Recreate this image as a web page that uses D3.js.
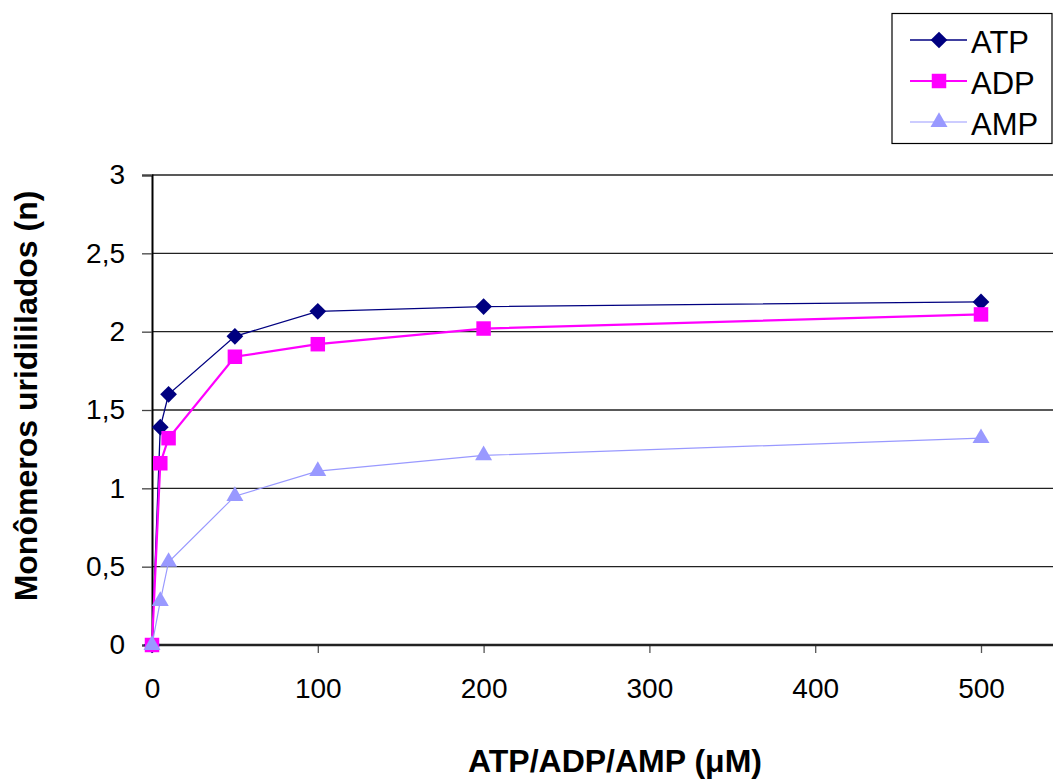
<!DOCTYPE html>
<html>
<head>
<meta charset="utf-8">
<script src="https://cdn.jsdelivr.net/npm/d3@7.9.0/dist/d3.min.js"></script>
<style>
  html, body { margin: 0; padding: 0; background: #fff; }
  svg { display: block; font-family: "Liberation Sans", Arial, sans-serif; }
</style>
</head>
<body>
<svg id="chart" width="1053" height="780"></svg>
<script>
// data
const concentrations = [0, 5, 10, 50, 100, 200, 500];
const atp = [0, 1.39, 1.60, 1.97, 2.13, 2.16, 2.19];
const adp = [0, 1.16, 1.32, 1.84, 1.92, 2.02, 2.11];
const amp = [0, 0.28, 0.53, 0.95, 1.11, 1.21, 1.32];
const seriesNames = ['ATP', 'ADP', 'AMP'];
const xTicks = [0, 100, 200, 300, 400, 500];
const yTicks = [0, 0.5, 1, 1.5, 2, 2.5, 3];

const plotLeft = 152, plotTop = 175, plotBottom = 645, plotRight = 1053;

const svg = d3.select('#chart');

const x = d3.scaleLinear().domain([0, 500]).range([plotLeft, 981]);
const y = d3.scaleLinear().domain([0, 3]).range([plotBottom, plotTop]);

const locale = d3.formatLocale({ decimal: ',', thousands: '.', grouping: [3], currency: ['', ''] });
const fmt = locale.format('~g');

// gridlines
svg.append('g')
  .selectAll('line')
  .data(yTicks.slice(1))
  .join('line')
  .attr('x1', plotLeft).attr('x2', plotRight)
  .attr('y1', d => y(d)).attr('y2', d => y(d))
  .attr('stroke', '#222').attr('stroke-width', 1.3);

// y axis
const yAxis = svg.append('g')
  .attr('transform', `translate(${plotLeft},0)`)
  .call(d3.axisLeft(y).tickValues(yTicks).tickFormat(fmt).tickSize(10).tickPadding(17));
yAxis.select('.domain').attr('stroke', '#000').attr('stroke-width', 2);
yAxis.selectAll('.tick line').attr('stroke', '#444').attr('stroke-width', 1.3);
yAxis.selectAll('text')
  .attr('font-size', 28).attr('fill', '#000')
  .attr('font-family', '"Liberation Sans", Arial, sans-serif');

// x axis
const xAxis = svg.append('g')
  .attr('transform', `translate(0,${plotBottom})`)
  .call(d3.axisBottom(x).tickValues(xTicks).tickFormat(d3.format('d')).tickSize(8).tickPadding(25));
xAxis.select('.domain').remove();
xAxis.append('line')
  .attr('x1', plotLeft).attr('x2', plotRight)
  .attr('stroke', '#222').attr('stroke-width', 2.5);
xAxis.selectAll('.tick line').attr('stroke', '#555').attr('stroke-width', 1.3);
xAxis.selectAll('text')
  .attr('font-size', 28).attr('fill', '#000')
  .attr('font-family', '"Liberation Sans", Arial, sans-serif');

// axis titles
svg.append('text')
  .attr('x', 615).attr('y', 772)
  .attr('text-anchor', 'middle')
  .attr('font-size', 32).attr('font-weight', 'bold')
  .text('ATP/ADP/AMP (\u03BCM)');

svg.append('text')
  .attr('transform', 'translate(37,396) rotate(-90)')
  .attr('text-anchor', 'middle')
  .attr('font-size', 32).attr('font-weight', 'bold')
  .text('Monômeros uridililados (n)');

// series
const series = [
  { name: seriesNames[0], values: atp, color: '#000080', width: 1.3, symbol: d3.symbolSquare, size: 140, rotate: 45 },
  { name: seriesNames[1], values: adp, color: '#FF00FF', width: 2.2, symbol: d3.symbolSquare, size: 210, rotate: 0 },
  { name: seriesNames[2], values: amp, color: '#9999FF', width: 1.2, symbol: d3.symbolTriangle, size: 125, rotate: 0 }
];

const line = d3.line()
  .x((d, i) => x(concentrations[i]))
  .y(d => y(d));

series.forEach(s => {
  const g = svg.append('g');
  g.append('path')
    .attr('d', line(s.values))
    .attr('fill', 'none')
    .attr('stroke', s.color)
    .attr('stroke-width', s.width);
  g.selectAll('path.pt')
    .data(s.values)
    .join('path')
    .attr('class', 'pt')
    .attr('d', d3.symbol().type(s.symbol).size(s.size))
    .attr('transform', (d, i) => `translate(${x(concentrations[i])},${y(d)}) rotate(${s.rotate})`)
    .attr('fill', s.color);
});

// legend
const legend = svg.append('g');
legend.append('rect')
  .attr('x', 892).attr('y', 13.5)
  .attr('width', 160).attr('height', 130)
  .attr('fill', '#fff').attr('stroke', '#000').attr('stroke-width', 1.2);

const legendY = d3.scalePoint().domain(seriesNames).range([40, 122]);
series.forEach(s => {
  const ly = legendY(s.name);
  legend.append('line')
    .attr('x1', 910).attr('x2', 967)
    .attr('y1', ly).attr('y2', ly)
    .attr('stroke', s.color).attr('stroke-width', s.width);
  legend.append('path')
    .attr('d', d3.symbol().type(s.symbol).size(s.size))
    .attr('transform', `translate(939,${ly}) rotate(${s.rotate})`)
    .attr('fill', s.color);
  legend.append('text')
    .attr('x', 971).attr('y', ly + 13)
    .attr('font-size', 31)
    .text(s.name);
});
</script>
</body>
</html>
